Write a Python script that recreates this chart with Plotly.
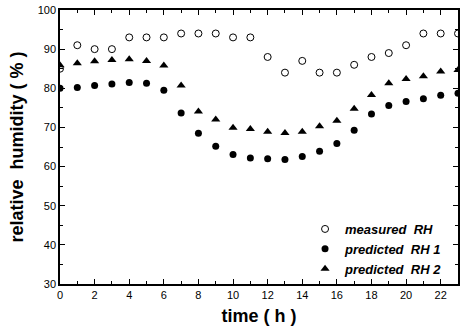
import plotly.graph_objects as go

hours = list(range(24))
measured_rh = [85, 91, 90, 90, 93, 93, 93, 94, 94, 94, 93, 93,
               88, 84, 87, 84, 84, 86, 88, 89, 91, 94, 94, 94]
predicted_rh1 = [80.0, 80.2, 80.7, 81.1, 81.5, 81.3, 79.5, 73.7, 68.5, 65.2, 63.1, 62.2,
                 62.0, 61.8, 62.6, 63.9, 65.9, 69.3, 73.4, 75.6, 76.6, 77.3, 78.2, 78.7]
predicted_rh2 = [85.9, 86.4, 86.9, 87.2, 87.4, 87.0, 85.8, 80.7, 74.1, 72.0, 69.9, 69.6,
                 68.9, 68.6, 68.9, 70.3, 71.7, 74.8, 78.3, 81.3, 82.4, 83.1, 84.3, 84.7]
x_ticks = list(range(0, 23, 2))
y_ticks = list(range(30, 101, 10))

FONT = "Arial, Liberation Sans, Helvetica"

fig = go.Figure()
fig.add_trace(go.Scatter(x=hours, y=measured_rh, mode="markers", name="<b><i>measured  RH</i></b>",
                         marker=dict(symbol="circle-open", size=7, color="black", line=dict(width=1))))
fig.add_trace(go.Scatter(x=hours, y=predicted_rh1, mode="markers", name="<b><i>predicted  RH 1</i></b>",
                         marker=dict(symbol="circle", size=7, color="black")))
fig.add_trace(go.Scatter(x=hours, y=predicted_rh2, mode="markers", name="<b><i>predicted  RH 2</i></b>",
                         marker=dict(symbol="triangle-up", size=8, color="black")))

axis_common = dict(showline=True, linecolor="black", linewidth=1.5, mirror="allticks",
                   ticks="inside", ticklen=5, tickcolor="black", showgrid=False, zeroline=False,
                   tickfont=dict(family=FONT, size=11, color="black"))
fig.update_xaxes(range=[0, 23], tickvals=x_ticks,
                 minor=dict(dtick=1, ticks="inside", ticklen=3, tickcolor="black", showgrid=False),
                 title=dict(text="<b>time ( h )</b>", font=dict(family=FONT, size=18, color="black"), standoff=9),
                 **axis_common)
fig.update_yaxes(range=[30, 100], tickvals=y_ticks,
                 minor=dict(dtick=5, ticks="inside", ticklen=3, tickcolor="black", showgrid=False),
                 title=dict(text="<b>relative  humidity ( % )</b>", font=dict(family=FONT, size=18, color="black"), standoff=9),
                 **axis_common)

fig.update_layout(
    width=461, height=335,
    margin=dict(l=60, r=1, t=10, b=51),
    plot_bgcolor="white", paper_bgcolor="white",
    legend=dict(x=0.975, y=0.0, xanchor="right", yanchor="bottom",
                bgcolor="rgba(0,0,0,0)", tracegroupgap=0, itemwidth=30,
                font=dict(family=FONT, size=13, color="black")),
    showlegend=True,
)

fig.write_html("out.html", config={"displayModeBar": False},
               post_script="document.body.style.margin='0';document.body.style.overflow='hidden';")
